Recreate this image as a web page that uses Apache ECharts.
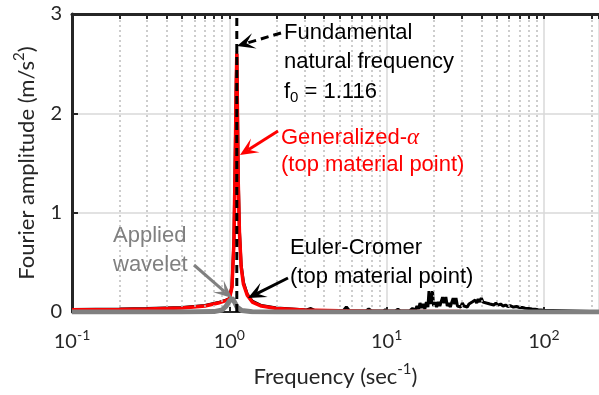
<!DOCTYPE html>
<html>
<head>
<meta charset="utf-8">
<script src="https://cdn.jsdelivr.net/npm/echarts@6/dist/echarts.min.js"></script>
<style>html,body{margin:0;background:#fff}#chart{width:599px;height:395px}</style>
</head>
<body>
<div id="chart"></div>
<script>
// natural frequency of the column
const f0 = 1.116;

// Generalized-alpha, top material point: [frequency, amplitude]
const genAlpha = [
  [0.1,0.022],[0.2,0.025],[0.3,0.03],[0.5,0.04],[0.7,0.06],[0.85,0.09],[0.95,0.115],[1.0,0.13],
  [1.04,0.25],[1.07,0.7],[1.09,1.5],[1.105,2.2],[1.116,2.6],[1.125,2.1],[1.14,1.3],[1.16,0.8],
  [1.19,0.45],[1.23,0.28],[1.3,0.17],[1.4,0.1],[1.6,0.06],[2,0.035],[3,0.02],[5,0.012],
  [10,0.006],[30,0.004],[100,0.003],[224,0.002]
];

// Euler-Cromer, top material point
const eulerCromer = [
  [0.1,0.026],[0.2,0.03],[0.3,0.034],[0.5,0.045],[0.7,0.066],[0.85,0.095],[0.95,0.12],[1.0,0.135],
  [1.04,0.26],[1.07,0.72],[1.09,1.55],[1.105,2.25],[1.116,2.62],[1.125,2.15],[1.14,1.35],[1.16,0.82],
  [1.19,0.47],[1.23,0.3],[1.3,0.18],[1.4,0.11],[1.6,0.065],[2,0.04],[2.5,0.03],[3.1,0.02],
  [3.3,0.035],[3.5,0.015],[5.3,0.012],[5.55,0.05],[5.8,0.012],[7.4,0.01],[7.7,0.032],[8,0.01],
  [9.5,0.01],[9.8,0.022],[10.1,0.01],[11.4,0.01],[11.8,0.028],[12.2,0.01],[14,0.012],[14.6,0.035],
  [15.2,0.02],[15.6,0.06],[16.0,0.03],[16.3,0.09],[16.7,0.04],[17.1,0.08],[17.5,0.03],[17.9,0.1],
  [18.3,0.05],[18.6,0.21],[19.1,0.08],[19.6,0.21],[19.9,0.06],[20.4,0.1],[20.8,0.05],[21.3,0.1],
  [21.8,0.06],[22.3,0.08],[22.7,0.15],[23.2,0.09],[23.8,0.15],[24.3,0.06],[24.8,0.09],[25.4,0.05],
  [26.0,0.1],[26.5,0.14],[27.1,0.08],[27.6,0.14],[28.2,0.06],[28.9,0.08],[29.6,0.05],[30.3,0.09],
  [31.0,0.06],[31.8,0.08],[32.6,0.05],[33.4,0.08],[34.2,0.06],[35.0,0.1],[35.8,0.08],[36.6,0.12],
  [37.4,0.09],[38.2,0.13],[39.1,0.1],[40.0,0.14],[41.0,0.1],[42.0,0.12],[43.1,0.09],[44.2,0.11],
  [45.4,0.08],[46.6,0.1],[48.0,0.07],[49.5,0.09],[51,0.07],[53,0.08],[55,0.06],[57,0.07],
  [59,0.055],[61,0.065],[64,0.05],[67,0.055],[70,0.045],[73,0.045],[76,0.038],[80,0.035],
  [84,0.03],[88,0.027],[92,0.022],[96,0.02],[99,0.018],[100,0.004],[224,0.002]
];

// applied wavelet (input motion)
const wavelet = [
  [0.1,0],[0.5,0],[0.8,0.004],[0.9,0.02],[0.95,0.055],[1.0,0.11],[1.04,0.14],[1.08,0.1],
  [1.12,0.05],[1.2,0.015],[1.4,0.003],[2,0],[224,0]
];

const xMin = 0.1, xMax = 224;
const decades = [0.1, 1, 10, 100];
const minorSteps = [2, 3, 4, 5, 6, 7, 8, 9];

const minors = [];
decades.forEach(d => minorSteps.forEach(k => { if (d * k < xMax) minors.push(+(d * k).toPrecision(3)); }));

const ink = '#262626';
const sansLbl = 'Lato, "Open Sans", sans-serif';
const sansTxt = '"Liberation Sans", Arial, sans-serif';

function arrow(x1, y1, x2, y2, color, dashed) {
  const dx = x2 - x1, dy = y2 - y1, len = Math.hypot(dx, dy);
  const ux = dx / len, uy = dy / len, nx = -uy, ny = ux;
  const L = 18, W = 8;
  const notch = [x2 - 0.55 * L * ux, y2 - 0.55 * L * uy];
  return [
    {type: 'line', shape: {x1, y1, x2: notch[0], y2: notch[1]},
     style: {stroke: color, lineWidth: 3, lineDash: dashed ? [8, 5] : null}, z: 100},
    {type: 'polygon', shape: {points: [
      [x2, y2],
      [x2 - L * ux + W * nx, y2 - L * uy + W * ny],
      notch,
      [x2 - L * ux - W * nx, y2 - L * uy - W * ny]
    ]}, style: {fill: color}, z: 100}
  ];
}

function text(x, y, str, color, rich) {
  return {type: 'text', x, y, z: 100,
    style: {text: str, fill: color, font: '22px ' + sansTxt, textVerticalAlign: 'middle', rich: rich || {}}};
}

const supStyle = {fontSize: 15, fontFamily: sansLbl, color: ink, padding: [0, 0, 15, 0]};

const chart = echarts.init(document.getElementById('chart'));
chart.setOption({
  animation: false,
  grid: {left: 72, right: 0, top: 14, bottom: 83},
  xAxis: [{
    type: 'log', logBase: 10, min: xMin, max: xMax, position: 'bottom',
    axisLine: {lineStyle: {color: ink, width: 2}},
    axisTick: {inside: true, length: 5, lineStyle: {color: ink, width: 2}},
    axisLabel: {
      color: ink, fontSize: 20, fontFamily: sansLbl, margin: 16, showMaxLabel: false,
      formatter: v => '10{s|' + Math.round(Math.log10(v)) + '}',
      rich: {s: {fontSize: 14, fontFamily: sansLbl, color: ink, padding: [0, 0, 14, 0]}}
    },
    splitLine: {show: true, lineStyle: {color: '#d9d9d9', width: 1.5}},
    name: 'Frequency (sec{s|-1})', nameLocation: 'middle', nameGap: 50,
    nameTextStyle: {color: ink, fontSize: 22, fontFamily: sansLbl, rich: {s: supStyle}}
  }, {
    type: 'log', logBase: 10, min: xMin, max: xMax, position: 'top',
    axisLine: {lineStyle: {color: ink, width: 3}},
    axisTick: {inside: true, length: 5, lineStyle: {color: ink, width: 2}},
    axisLabel: {show: false}, splitLine: {show: false}
  }],
  yAxis: {
    type: 'value', min: 0, max: 3, interval: 1,
    axisLine: {show: true, lineStyle: {color: ink, width: 3}},
    axisTick: {show: true, inside: true, length: 6, lineStyle: {color: ink, width: 2}},
    axisLabel: {color: ink, fontSize: 20, fontFamily: sansLbl, margin: 10},
    splitLine: {lineStyle: {color: '#d9d9d9', width: 1.5}},
    name: 'Fourier amplitude (m/s{s|2})', nameLocation: 'middle', nameGap: 30,
    nameTextStyle: {color: ink, fontSize: 22, fontFamily: sansLbl, rich: {s: supStyle}}
  },
  series: [{
    type: 'line', data: [], silent: true,
    markLine: {
      silent: true, symbol: 'none', label: {show: false},
      lineStyle: {type: [2, 3], color: '#bdbdbd', width: 1.5},
      data: minors.map(v => ({xAxis: v}))
    }
  }, {
    type: 'line', data: [], silent: true,
    markLine: {
      silent: true, symbol: 'none', label: {show: false},
      lineStyle: {type: 'solid', color: ink, width: 2},
      data: minors.map(v => [{coord: [v, 3]}, {coord: [v, 2.95]}])
    }
  }, {
    name: 'Euler-Cromer', type: 'line', data: eulerCromer, showSymbol: false,
    lineStyle: {color: '#000', width: 3}, z: 3
  }, {
    name: 'Generalized-alpha', type: 'line', data: genAlpha, showSymbol: false,
    lineStyle: {color: '#ff0000', width: 3.5}, z: 4
  }, {
    name: 'Applied wavelet', type: 'line', data: wavelet, showSymbol: false,
    lineStyle: {color: '#808080', width: 5}, z: 5
  }, {
    name: 'f0', type: 'line', data: [[f0, 0], [f0, 3]], showSymbol: false,
    lineStyle: {color: '#000', width: 3, type: [8, 5]}, z: 6
  }],
  graphic: [
    text(284, 33, 'Fundamental', '#000'),
    text(284, 62, 'natural frequency', '#000'),
    text(284, 92, '{a|f}{b|0}{a| = 1.116}', '#000', {
      a: {font: '22px ' + sansTxt, fill: '#000'},
      b: {font: '15px ' + sansTxt, fill: '#000', padding: [12, 0, 0, 0]}
    }),
    text(281, 138, '{a|Generalized-}{g|α}', '#ff0000', {
      a: {font: '22px ' + sansTxt, fill: '#ff0000'},
      g: {font: 'italic 23px "Liberation Serif", serif', fill: '#ff0000'}
    }),
    text(281, 165, '(top material point)', '#ff0000'),
    text(113, 236, 'Applied', '#808080'),
    text(113, 265, 'wavelet', '#808080'),
    text(290, 248, 'Euler-Cromer', '#000'),
    text(290, 277, '(top material point)', '#000'),
    ...arrow(281, 33, 237, 46, '#000', true),
    ...arrow(278, 131, 240, 155, '#ff0000'),
    ...arrow(194, 265, 232, 298, '#808080'),
    ...arrow(288, 278, 248, 298, '#000')
  ]
});
</script>
</body>
</html>
